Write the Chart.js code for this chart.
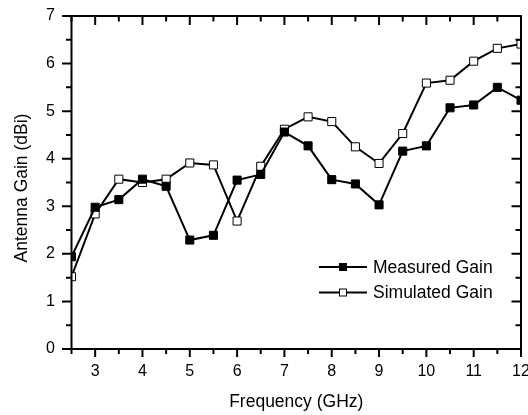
<!DOCTYPE html>
<html>
<head>
<meta charset="utf-8">
<script src="https://cdn.jsdelivr.net/npm/chart.js"></script>
<style>
  html, body { margin: 0; padding: 0; background: #fff; }
  #wrap { width: 528px; height: 415px; position: relative; }
</style>
</head>
<body>
<div id="wrap"><canvas id="chart"></canvas></div>
<script>
var freqs = [2.5, 3, 3.5, 4, 4.5, 5, 5.5, 6, 6.5, 7, 7.5, 8, 8.5, 9, 9.5, 10, 10.5, 11, 11.5, 12];
var measuredGain = [1.94, 2.98, 3.14, 3.57, 3.42, 2.29, 2.39, 3.55, 3.67, 4.56, 4.27, 3.56, 3.47, 3.03, 4.16, 4.27, 5.07, 5.13, 5.50, 5.23];
var simulatedGain = [1.52, 2.84, 3.57, 3.50, 3.57, 3.91, 3.87, 2.69, 3.84, 4.62, 4.88, 4.78, 4.25, 3.90, 4.53, 5.59, 5.65, 6.05, 6.32, 6.41];
var seriesNames = ['Measured Gain', 'Simulated Gain'];
var xRange = [2.5, 12];
var yRange = [0, 7];
var yTitle = 'Antenna Gain (dBi)';

var FONT = '"Liberation Sans", Arial, sans-serif';
Chart.defaults.font.family = FONT;
Chart.defaults.color = '#000';

function toPoints(values) {
    return freqs.map(function (f, i) { return {x: f, y: values[i]}; });
}

// box frame plus major/minor tick marks (out on left/bottom, in on top/right)
var frameTicks = {
    id: 'frameTicks',
    afterDatasetsDraw: function (chart) {
        var ctx = chart.ctx, a = chart.chartArea;
        var xs = chart.scales.x, ys = chart.scales.y;
        ctx.save();
        ctx.strokeStyle = '#000';
        ctx.lineWidth = 2;
        ctx.strokeRect(a.left, a.top, a.right - a.left, a.bottom - a.top);
        ctx.beginPath();
        xs.ticks.forEach(function (t) {
            var px = xs.getPixelForValue(t.value);
            var major = Number.isInteger(t.value);
            ctx.moveTo(px, a.bottom); ctx.lineTo(px, a.bottom + (major ? 8 : 5));
            ctx.moveTo(px, a.top); ctx.lineTo(px, a.top + (major ? 9 : 5.5));
        });
        ys.ticks.forEach(function (t) {
            var py = ys.getPixelForValue(t.value);
            var len = Number.isInteger(t.value) ? 9.5 : 5.5;
            ctx.moveTo(a.left, py); ctx.lineTo(a.left - len, py);
            ctx.moveTo(a.right, py); ctx.lineTo(a.right - len, py);
        });
        ctx.stroke();

        // y axis title, a bit below the plot middle as in the original
        ctx.save();
        ctx.translate(22, (a.top + a.bottom) / 2 + 5.5);
        ctx.rotate(-Math.PI / 2);
        ctx.font = '17.5px ' + FONT;
        ctx.fillStyle = '#000';
        ctx.textAlign = 'center';
        ctx.textBaseline = 'middle';
        ctx.fillText(yTitle, 0, 0);
        ctx.restore();
        ctx.restore();
    }
};

// legend drawn as line + marker like the original plot
var lineLegend = {
    id: 'lineLegend',
    afterDraw: function (chart) {
        var ctx = chart.ctx;
        ctx.save();
        chart.data.datasets.forEach(function (ds, i) {
            var y = 267 + i * 25.5;
            ctx.strokeStyle = ds.borderColor;
            ctx.lineWidth = ds.borderWidth;
            ctx.beginPath();
            ctx.moveTo(319, y); ctx.lineTo(367, y);
            ctx.stroke();
            ctx.fillStyle = ds.pointBackgroundColor;
            ctx.strokeStyle = ds.pointBorderColor;
            ctx.lineWidth = 1;
            ctx.fillRect(339, y - 4, 8, 8);
            ctx.strokeRect(339.5, y - 3.5, 7, 7);
            ctx.fillStyle = '#000';
            ctx.font = '17.5px ' + FONT;
            ctx.textBaseline = 'middle';
            ctx.fillText(ds.label, 373, y + 1);
        });
        ctx.restore();
    }
};

new Chart('chart', {
    type: 'line',
    data: {
        datasets: [{
            label: seriesNames[0],
            data: toPoints(measuredGain),
            borderColor: '#000',
            borderWidth: 2,
            pointStyle: 'rect',
            pointRadius: 5.7,
            pointBackgroundColor: '#000',
            pointBorderColor: '#000',
            pointBorderWidth: 1,
            tension: 0
        }, {
            label: seriesNames[1],
            data: toPoints(simulatedGain),
            borderColor: '#000',
            borderWidth: 2,
            pointStyle: 'rect',
            pointRadius: 5.7,
            pointBackgroundColor: '#fff',
            pointBorderColor: '#000',
            pointBorderWidth: 1,
            tension: 0
        }]
    },
    options: {
        responsive: true,
        maintainAspectRatio: false,
        animation: false,
        layout: {padding: {top: 16, right: 7, left: 0, bottom: 0}},
        plugins: {
            legend: {display: false},
            tooltip: {enabled: false}
        },
        scales: {
            x: {
                type: 'linear',
                min: xRange[0],
                max: xRange[1],
                grid: {display: false, drawTicks: false},
                border: {display: false},
                ticks: {
                    stepSize: 0.5,
                    autoSkip: false,
                    maxRotation: 0,
                    padding: 13,
                    font: {size: 16},
                    callback: function (v) { return Number.isInteger(v) && v > 2.5 ? String(v) : ''; }
                },
                title: {
                    display: true,
                    text: 'Frequency (GHz)',
                    font: {size: 17.5},
                    padding: {top: 0, bottom: 2}
                },
                afterFit: function (scale) {
                    scale.height = 66;
                    scale.paddingLeft = 0;
                    scale.paddingRight = 0;
                }
            },
            y: {
                min: yRange[0],
                max: yRange[1],
                grid: {display: false, drawTicks: false},
                border: {display: false},
                ticks: {
                    stepSize: 0.5,
                    autoSkip: false,
                    padding: 16.5,
                    font: {size: 16},
                    callback: function (v) { return Number.isInteger(v) ? String(v) : ''; }
                },
                afterFit: function (scale) {
                    scale.width = 71.5;
                    scale.paddingTop = 0;
                    scale.paddingBottom = 0;
                }
            }
        }
    },
    plugins: [frameTicks, lineLegend]
});
</script>
</body>
</html>
